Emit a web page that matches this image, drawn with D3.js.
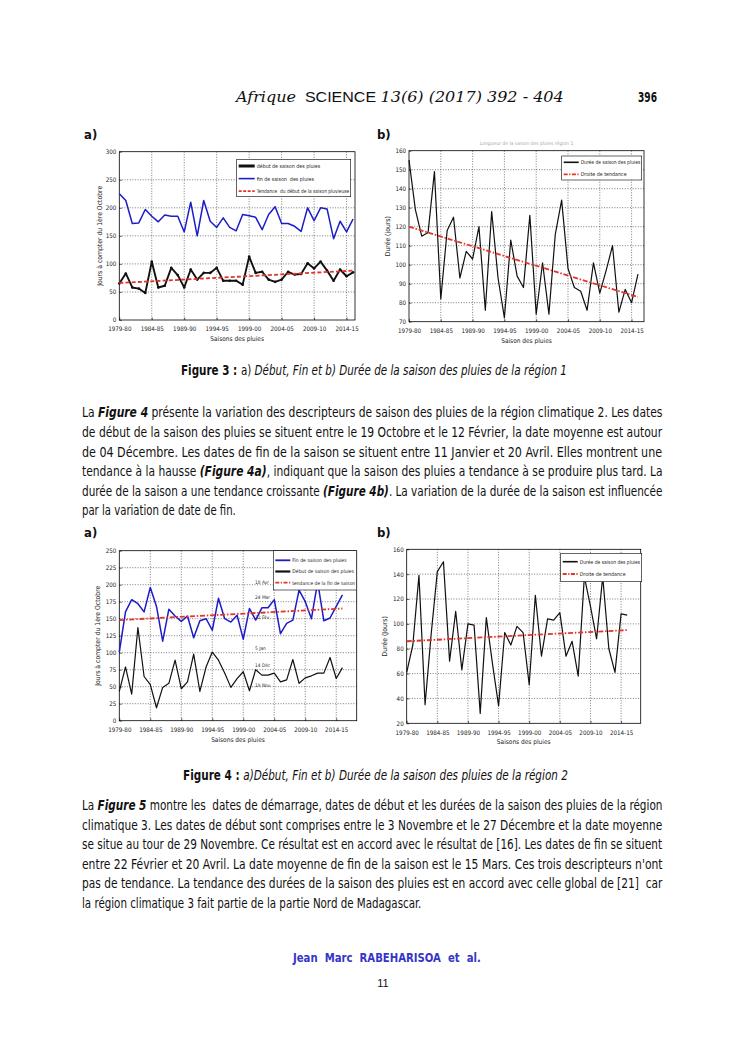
<!DOCTYPE html>
<html><head><meta charset="utf-8">
<script src="https://cdn.jsdelivr.net/npm/d3@7"></script>
<style>body{margin:0;background:#fff}svg{display:block}text{white-space:pre}</style>
</head><body>
<svg id="page" width="744" height="1053"></svg>
<script>
// ---------- DATA ----------
const seasons = ["1979-80","1980-81","1981-82","1982-83","1983-84","1984-85","1985-86","1986-87","1987-88","1988-89",
  "1989-90","1990-91","1991-92","1992-93","1993-94","1994-95","1995-96","1996-97","1997-98","1998-99",
  "1999-00","2000-01","2001-02","2002-03","2003-04","2004-05","2005-06","2006-07","2007-08","2008-09",
  "2009-10","2010-11","2011-12","2012-13","2013-14","2014-15","2015-16"];
const tickLabels = ["1979-80","1984-85","1989-90","1994-95","1999-00","2004-05","2009-10","2014-15"];

// Figure 3 (région 1)
const fin1   = [225,213,172,173,197,185,175,187,185,185,157,210,150,213,176,165,182,165,159,188,186,183,161,188,202,172,172,167,158,200,177,200,198,145,176,157,180];
const debut1 = [65,83,58,56,48,104,58,61,93,80,58,90,72,84,84,93,70,70,70,63,113,84,86,72,68,72,86,81,82,101,92,104,88,70,90,78,85];
const trend1a = [66, 88];
const duree1 = [155,129,115,117,149,82,118,125,93,107,103,120,76,128,93,72,113,94,88,126,74,101,74,116,134,98,88,86,76,101,85,97,110,75,87,80,95];
const trend1b = [120, 83];

// Figure 4 (région 2)
const fin2   = [101,160,178,172,160,196,168,117,164,154,146,154,122,147,150,133,180,150,145,155,120,165,148,166,166,178,128,143,148,192,175,150,204,147,151,168,185];
const debut2 = [43,79,39,137,65,53,19,49,55,89,47,57,98,43,79,101,89,70,49,62,72,44,75,67,67,70,57,60,90,55,63,66,70,70,93,62,78];
const trend2a = [148, 165];
const duree2 = [61,83,139,35,92,142,150,70,110,63,100,99,28,105,68,34,93,83,98,93,51,123,74,104,103,109,74,86,58,138,114,88,138,80,61,108,107];
const trend2b = [86, 95];

const dateLabels2a = ["18 Avr","24 Mar","22 Fév","5 Jan","14 Déc","19 Nov"];
const dateLabelValues2a = [203,181,152,107,82,52];

// ---------- DRAWING ----------
const FONT = "'Liberation Sans Narrow','DejaVu Sans Condensed','Arial Narrow',sans-serif";
const svg = d3.select("#page");
svg.append("rect").attr("width",744).attr("height",1053).attr("fill","#fff");

const BLUE = "#1c1cc8", RED = "#e3342a", BLACK = "#111";

function fitMax(sel, maxW) {
  const w = sel.node().getComputedTextLength();
  if (w > maxW) sel.attr("textLength", maxW).attr("lengthAdjust", "spacingAndGlyphs");
}

function drawChart(c) {
  const g = svg.append("g");
  const x = d3.scaleLinear().domain([0, c.xMax]).range([c.left, c.right]);
  const y = d3.scaleLinear().domain(c.yDomain).range([c.bottom, c.top]);
  const xt = tickLabels.map(t => seasons.indexOf(t));
  const yt = d3.range(c.yDomain[0], c.yDomain[1] + 1e-6, c.yStep);

  // grid
  g.append("g").selectAll("line").data(xt.filter(i => i > 0)).join("line")
    .attr("x1", d => x(d)).attr("x2", d => x(d)).attr("y1", c.top).attr("y2", c.bottom)
    .attr("stroke", "#222").attr("stroke-width", 0.6).attr("stroke-dasharray", "1,1.6");
  g.append("g").selectAll("line").data(yt.slice(1, -1)).join("line")
    .attr("y1", d => y(d)).attr("y2", d => y(d)).attr("x1", c.left).attr("x2", c.right)
    .attr("stroke", "#222").attr("stroke-width", 0.6).attr("stroke-dasharray", "1,1.6");

  // axes
  const ax = g.append("g").attr("transform", `translate(0,${c.bottom})`)
    .call(d3.axisBottom(x).tickValues(xt).tickFormat(i => seasons[i]).tickSizeInner(-2.5).tickSizeOuter(0).tickPadding(7));
  const ay = g.append("g").attr("transform", `translate(${c.left},0)`)
    .call(d3.axisLeft(y).tickValues(yt).tickFormat(d3.format("d")).tickSizeInner(-2.5).tickSizeOuter(0).tickPadding(3));
  [ax, ay].forEach(a => {
    a.select(".domain").remove();
    a.selectAll("text").attr("font-family", FONT).attr("font-size", 6.2).attr("fill", "#222");
    a.selectAll("line").attr("stroke", "#000").attr("stroke-width", 0.6);
  });
  // box
  g.append("rect").attr("x", c.left).attr("y", c.top).attr("width", c.right - c.left).attr("height", c.bottom - c.top)
    .attr("fill", "none").attr("stroke", "#000").attr("stroke-width", 0.8);

  // series
  const line = d3.line().x((d, i) => x(i)).y(d => y(d));
  c.series.forEach(s => {
    g.append("path").datum(s.values).attr("d", line).attr("fill", "none")
      .attr("stroke", s.color).attr("stroke-width", s.width).attr("stroke-linejoin", "round");
    if (s.markers) {
      g.append("g").selectAll("circle").data(s.values).join("circle")
        .attr("cx", (d, i) => x(i)).attr("cy", d => y(d)).attr("r", 1.3).attr("fill", s.color);
    }
  });
  // trend
  const tl = d3.line().x(d => x(d[0])).y(d => y(d[1]));
  const last = seasons.length - 1;
  g.append("path").datum([[0, c.trend[0]], [last, c.trend[1]]]).attr("d", tl)
    .attr("fill", "none").attr("stroke", RED).attr("stroke-width", 1.8)
    .attr("stroke-dasharray", c.trendDash);

  // extra annotations
  if (c.annot) c.annot(g, x, y);

  // legend
  const L = c.legend;
  g.append("rect").attr("x", L.x).attr("y", L.y).attr("width", L.w).attr("height", L.h)
    .attr("fill", "#fff").attr("stroke", "#000").attr("stroke-width", 0.6);
  L.items.forEach((it, k) => {
    const yy = L.y + L.rowTop + k * L.rowStep;
    g.append("line").attr("x1", L.x + 2).attr("x2", L.x + 2 + L.lineLen).attr("y1", yy).attr("y2", yy)
      .attr("stroke", it.color).attr("stroke-width", it.width).attr("stroke-dasharray", it.dash || null);
    const tx = L.x + 4 + L.lineLen;
    const t = g.append("text").attr("x", tx).attr("y", yy + 1.9).text(it.label)
      .attr("font-family", FONT).attr("font-size", L.fs).attr("fill", "#222");
    fitMax(t, L.x + L.w - 1.5 - tx);
  });

  // axis titles
  g.append("text").attr("x", (c.left + c.right) / 2).attr("y", c.bottom + 21).attr("text-anchor", "middle")
    .attr("font-family", FONT).attr("font-size", 6.5).attr("fill", "#222").text(c.xTitle);
  g.append("text").attr("transform", `translate(${c.yTitleX},${(c.top + c.bottom) / 2}) rotate(-90)`)
    .attr("text-anchor", "middle").attr("font-family", FONT).attr("font-size", 6.8).attr("fill", "#222").text(c.yTitle);
  if (c.title) g.append("text").attr("x", (c.left + c.right) / 2).attr("y", c.top - 6).attr("text-anchor", "middle")
    .attr("font-family", FONT).attr("font-size", 5).attr("fill", "#aaa").text(c.title);
}

// Figure 3a
drawChart({
  left: 119.3, right: 355, top: 151.7, bottom: 320, xMax: 36.3, yDomain: [0, 300], yStep: 50,
  series: [
    {values: fin1, color: BLUE, width: 1.5},
    {values: debut1, color: BLACK, width: 1.9, markers: true}
  ],
  trend: trend1a, trendDash: "4,2.2",
  legend: {x: 236.7, y: 159.3, w: 114, h: 37.4, rowTop: 6.7, rowStep: 12.6, lineLen: 16, fs: 5.3,
    items: [
      {label: "début de saison des pluies", color: BLACK, width: 3},
      {label: "fin de saison  des pluies", color: BLUE, width: 1.6},
      {label: "Tendance  du début de la saison pluvieuse", color: RED, width: 1.8, dash: "3,1.5"}
    ]},
  xTitle: "Saisons des pluies", yTitle: "Jours à compter du 1ère Octobre", yTitleX: 102
});

// Figure 3b
drawChart({
  left: 409, right: 644, top: 150.7, bottom: 321.7, xMax: 36.95, yDomain: [70, 160], yStep: 10,
  series: [{values: duree1, color: BLACK, width: 1.2}],
  trend: trend1b, trendDash: "5,1.8,1.5,1.8",
  legend: {x: 561.7, y: 156, w: 80, h: 24, rowTop: 6.3, rowStep: 12, lineLen: 15, fs: 5.3,
    items: [
      {label: "Durée de saison des pluies", color: BLACK, width: 1.6},
      {label: "Droite de tendance", color: RED, width: 1.8, dash: "4,1.5,1.2,1.5"}
    ]},
  xTitle: "Saison des pluies", yTitle: "Durée (jours)", yTitleX: 390,
  title: "Longueur de la saison des pluies région 1"
});

// Figure 4a
drawChart({
  left: 119.3, right: 356.7, top: 550.7, bottom: 720.7, xMax: 38.3, yDomain: [0, 250], yStep: 25,
  series: [
    {values: fin2, color: BLUE, width: 1.5},
    {values: debut2, color: BLACK, width: 1.2}
  ],
  trend: trend2a, trendDash: "5,1.8,1.5,1.8",
  annot: (g, x, y) => {
    g.append("g").selectAll("text").data(dateLabels2a).join("text")
      .attr("x", x(21.9)).attr("y", (d, i) => y(dateLabelValues2a[i]) + 1.8).text(d => d)
      .attr("font-family", FONT).attr("font-size", 4.8).attr("fill", "#333");
  },
  legend: {x: 273.3, y: 550.7, w: 83.4, h: 39.3, rowTop: 9.6, rowStep: 11.2, lineLen: 15, fs: 5.1,
    items: [
      {label: "Fin de saison des pluies", color: BLUE, width: 1.8},
      {label: "Début de saison des pluies", color: BLACK, width: 2.2},
      {label: "tendance de la fin de saison", color: RED, width: 1.8, dash: "4,1.5,1.2,1.5"}
    ]},
  xTitle: "Saisons des pluies", yTitle: "Jours à compter du 1ère Octobre", yTitleX: 100
});

// Figure 4b
drawChart({
  left: 406.7, right: 640.7, top: 549.3, bottom: 723.3, xMax: 38.2, yDomain: [20, 160], yStep: 20,
  series: [{values: duree2, color: BLACK, width: 1.2}],
  trend: trend2b, trendDash: "5,1.8,1.5,1.8",
  legend: {x: 560.7, y: 553.3, w: 81, h: 28.4, rowTop: 8.4, rowStep: 12.3, lineLen: 15, fs: 5.3,
    items: [
      {label: "Durée de saison des pluies", color: BLACK, width: 1.6},
      {label: "Droite de tendance", color: RED, width: 1.8, dash: "4,1.5,1.2,1.5"}
    ]},
  xTitle: "Saisons des pluies", yTitle: "Durée (Jours)", yTitleX: 387
});

// ---------- PAGE TEXT ----------
const BODY = FONT;
function richLine(parts, x, yBase, width, size, opts = {}) {
  const t = svg.append("text").attr("font-family", opts.family || BODY).attr("font-size", size)
    .attr("fill", opts.fill || "#111");
  parts.forEach(p => {
    const s = t.append("tspan").text(p.t);
    if (p.b) s.attr("font-weight", "bold");
    if (p.i) s.attr("font-style", "italic");
    if (p.f) s.attr("font-family", p.f);
  });
  const w = t.node().getComputedTextLength();
  const k = width ? width / w : 1;
  t.attr("transform", `translate(${x},${yBase}) scale(${k},1)`);
  return t;
}

// header
richLine([
  {t: "Afrique", i: true, f: "'DejaVu Serif',serif"},
  {t: "  SCIENCE ", f: "'Liberation Sans','DejaVu Sans',sans-serif"},
  {t: "13(6) (2017) 392 - 404", i: true, f: "'DejaVu Serif',serif"}
], 236, 102, 328, 14, {fill: "#111"});
richLine([{t: "396", b: true}], 638, 102, 19, 14);

// panel letters
[[84, 139, "a)"], [377, 139, "b)"], [84, 537, "a)"], [377, 537, "b)"]].forEach(([xx, yy, s]) =>
  svg.append("text").attr("x", xx).attr("y", yy).text(s).attr("font-family", BODY)
    .attr("font-size", 13).attr("font-weight", "bold").attr("fill", "#111"));

// captions
richLine([{t: "Figure 3 : ", b: true}, {t: "a) "}, {t: "Début, Fin et b) Durée de la saison des pluies de la région 1", i: true}],
  181, 375, 386, 14);
richLine([{t: "Figure 4 : ", b: true}, {t: "a)Début, Fin et b) Durée de la saison des pluies de la région 2", i: true}],
  183, 780, 385, 14);

const para1 = [
  [{t: "La "}, {t: "Figure 4", b: true, i: true}, {t: " présente la variation des descripteurs de saison des pluies de la région climatique 2. Les dates"}],
  [{t: "de début de la saison des pluies se situent entre le 19 Octobre et le 12 Février, la date moyenne est autour"}],
  [{t: "de 04 Décembre. Les dates de fin de la saison se situent entre 11 Janvier et 20 Avril. Elles montrent une"}],
  [{t: "tendance à la hausse "}, {t: "(Figure 4a)", b: true, i: true}, {t: ", indiquant que la saison des pluies a tendance à se produire plus tard. La"}],
  [{t: "durée de la saison a une tendance croissante "}, {t: "(Figure 4b)", b: true, i: true}, {t: ". La variation de la durée de la saison est influencée"}],
  [{t: "par la variation de date de fin."}]
];
const para1Y = [417, 436.5, 456.5, 476, 495.5, 515];
para1.forEach((p, i) => richLine(p, 82, para1Y[i], i < 5 ? 581 : 154, 14));

const para2 = [
  [{t: "La "}, {t: "Figure 5", b: true, i: true}, {t: " montre les  dates de démarrage, dates de début et les durées de la saison des pluies de la région"}],
  [{t: "climatique 3. Les dates de début sont comprises entre le 3 Novembre et le 27 Décembre et la date moyenne"}],
  [{t: "se situe au tour de 29 Novembre. Ce résultat est en accord avec le résultat de [16]. Les dates de fin se situent"}],
  [{t: "entre 22 Février et 20 Avril. La date moyenne de fin de la saison est le 15 Mars. Ces trois descripteurs n'ont"}],
  [{t: "pas de tendance. La tendance des durées de la saison des pluies est en accord avec celle global de [21]  car"}],
  [{t: "la région climatique 3 fait partie de la partie Nord de Madagascar."}]
];
const para2Y = [810, 829.5, 849, 868.5, 888, 907.5];
para2.forEach((p, i) => richLine(p, 82, para2Y[i], i < 5 ? 581 : 340, 14));

// footer
richLine([{t: "Jean  Marc  RABEHARISOA  et  al.", b: true}], 293, 962, 188, 11.5, {fill: "#3535c8"});
svg.append("text").attr("x", 383).attr("y", 987).attr("text-anchor", "middle").text("11")
  .attr("font-family", "'Liberation Sans','DejaVu Sans',sans-serif").attr("font-size", 11).attr("fill", "#111");
</script>
</body></html>
